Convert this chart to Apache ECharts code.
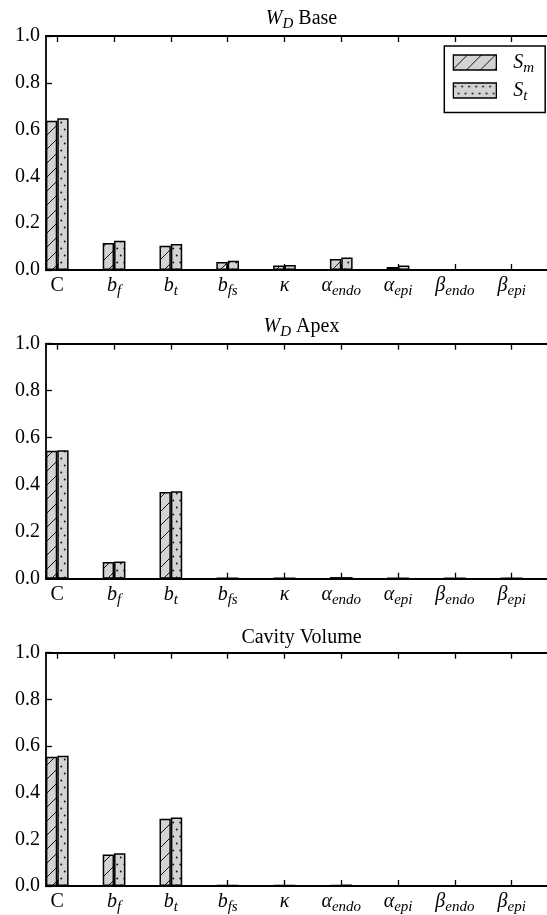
<!DOCTYPE html>
<html>
<head>
<meta charset="utf-8">
<script src="https://cdn.jsdelivr.net/npm/echarts@6/dist/echarts.min.js"></script>
<style>
  html, body { margin: 0; padding: 0; background: #fff; overflow: hidden; }
  /* the plot boxes run a little past the right edge of the page */
  #chart { width: 560px; height: 915px; }
</style>
</head>
<body>
<div id="chart"></div>
<script>
// Parameters on the x axis (underscore marks a subscript)
const categories = ['C', 'b_f', 'b_t', 'b_fs', 'κ', 'α_endo', 'α_epi', 'β_endo', 'β_epi'];
const yTickValues = [0, 0.2, 0.4, 0.6, 0.8, 1.0];
const panelTitles = ['W_D Base', 'W_D Apex', 'Cavity Volume'];
const seriesNames = ['S_m', 'S_t'];

// Sensitivity indices: first-order (S_m) and total (S_t)
const baseSm = [0.638, 0.115, 0.104, 0.034, 0.019, 0.047, 0.013, 0.001, 0.002];
const baseSt = [0.648, 0.125, 0.111, 0.040, 0.021, 0.053, 0.019, 0.001, 0.003];
const apexSm = [0.545, 0.071, 0.369, 0.003, 0.003, 0.007, 0.003, 0.003, 0.003];
const apexSt = [0.547, 0.073, 0.372, 0.004, 0.003, 0.007, 0.003, 0.003, 0.003];
const cavSm = [0.554, 0.135, 0.288, 0.005, 0.004, 0.005, 0.001, 0.001, 0.001];
const cavSt = [0.558, 0.140, 0.294, 0.005, 0.004, 0.006, 0.001, 0.001, 0.001];

const panels = [
  { title: panelTitles[0], sm: baseSm, st: baseSt },
  { title: panelTitles[1], sm: apexSm, st: apexSt },
  { title: panelTitles[2], sm: cavSm, st: cavSt }
];

const FONT = '"Liberation Serif", "DejaVu Serif", serif';
const FILL = '#d3d3d3';

// Fill patterns: diagonal hatch and staggered dots
function hatchPattern() {
  const c = document.createElement('canvas');
  c.width = 14; c.height = 14;
  const g = c.getContext('2d');
  g.fillStyle = FILL; g.fillRect(0, 0, 14, 14);
  g.strokeStyle = '#111'; g.lineWidth = 1;
  g.beginPath();
  g.moveTo(-1, 15); g.lineTo(15, -1);
  g.moveTo(-2, 2); g.lineTo(2, -2);
  g.moveTo(12, 16); g.lineTo(16, 12);
  g.stroke();
  return { image: c, repeat: 'repeat' };
}
function dotPattern() {
  const c = document.createElement('canvas');
  c.width = 7; c.height = 14;
  const g = c.getContext('2d');
  g.fillStyle = FILL; g.fillRect(0, 0, 7, 14);
  g.fillStyle = '#111';
  [[1.75, 3.5], [5.25, 10.5]].forEach(function (p) {
    g.beginPath(); g.arc(p[0], p[1], 0.95, 0, Math.PI * 2); g.fill();
  });
  return { image: c, repeat: 'repeat' };
}
const patterns = [hatchPattern(), dotPattern()];

const rich = {
  rm: { fontFamily: FONT, fontSize: 20, fontWeight: 'normal', color: '#000', lineHeight: 26 },
  it: { fontFamily: FONT, fontSize: 20, fontWeight: 'normal', fontStyle: 'italic', color: '#000', lineHeight: 26 },
  sub: { fontFamily: FONT, fontSize: 15, fontWeight: 'normal', fontStyle: 'italic', color: '#000', lineHeight: 15, verticalAlign: 'bottom' }
};

// "X_Y rest" -> italic X, italic subscript Y, roman rest
function mathText(s) {
  const m = s.match(/^(\S)_(\S+)(.*)$/);
  if (m) {
    let out = '{it|' + m[1] + '}{sub|' + m[2] + '}';
    if (m[3]) out += '{rm|' + m[3] + '}';
    return out;
  }
  if (s.length === 1 && s !== s.toUpperCase()) return '{it|' + s + '}';
  return '{rm|' + s + '}';
}

const GRID_LEFT = 45.9, GRID_W = 511.2;
const gridTops = [36, 343.7, 652.7];
const gridHeights = [234, 235, 234.6];
const titleTops = [5.5, 314, 625];
const tickIdx = categories.map(function (_, i) { return i; });

const grids = [], xAxes = [], yAxes = [], series = [], titles = [];
panels.forEach(function (p, k) {
  grids.push({ left: GRID_LEFT, width: GRID_W, top: gridTops[k], height: gridHeights[k], containLabel: false });
  titles.push({
    text: mathText(p.title),
    left: GRID_LEFT + GRID_W / 2, top: titleTops[k], textAlign: 'center', padding: 0,
    textStyle: { fontWeight: 'normal', rich: rich }
  });
  const axLine = { show: true, onZero: false, lineStyle: { color: '#000', width: 1.8 } };
  const tick = { show: true, inside: true, length: 6, customValues: tickIdx, lineStyle: { color: '#000', width: 1.3 } };
  xAxes.push({
    gridIndex: k, type: 'value', position: 'bottom', min: -0.2, max: 8.8,
    axisLine: axLine, axisTick: tick, splitLine: { show: false },
    axisLabel: {
      show: true, margin: 3, customValues: tickIdx,
      formatter: function (v) { return mathText(categories[Math.round(v)]); },
      rich: rich
    }
  });
  xAxes.push({
    gridIndex: k, type: 'value', position: 'top', min: -0.2, max: 8.8,
    axisLine: axLine, axisTick: tick, splitLine: { show: false },
    axisLabel: { show: false }
  });
  yAxes.push({
    gridIndex: k, type: 'value', min: yTickValues[0], max: yTickValues[yTickValues.length - 1], interval: 0.2,
    axisLine: axLine,
    axisTick: { show: true, inside: true, length: 6, lineStyle: { color: '#000', width: 1.3 } },
    splitLine: { show: false },
    axisLabel: {
      margin: 6, fontFamily: FONT, fontSize: 20, color: '#000',
      formatter: function (v) { return v.toFixed(1); }
    }
  });
  [p.sm, p.st].forEach(function (vals, j) {
    series.push({
      type: 'bar', name: seriesNames[j], xAxisIndex: k * 2, yAxisIndex: k,
      barWidth: 11.36, barGap: '0%',
      data: vals.map(function (v, i) { return [i, v]; }),
      itemStyle: { color: patterns[j], borderColor: '#000', borderWidth: 1.5 },
      emphasis: { disabled: true },
      animation: false
    });
  });
});

const chart = echarts.init(document.getElementById('chart'), null, { renderer: 'canvas' });
chart.setOption({
  backgroundColor: '#fff',
  animation: false,
  title: titles,
  grid: grids,
  xAxis: xAxes,
  yAxis: yAxes,
  legend: {
    data: seriesNames,
    icon: 'rect',
    orient: 'vertical', left: 444.3, top: 46,
    padding: [6.5, 11, 9, 8.4],
    itemGap: 5, itemWidth: 43, itemHeight: 15,
    borderColor: '#000', borderWidth: 1.5, backgroundColor: '#fff',
    itemStyle: { borderColor: '#000', borderWidth: 1.3 },
    selectedMode: false,
    formatter: function (n) { return mathText(n); },
    textStyle: { rich: rich, padding: [0, 0, 0, 12] }
  },
  series: series
});
</script>
</body>
</html>
